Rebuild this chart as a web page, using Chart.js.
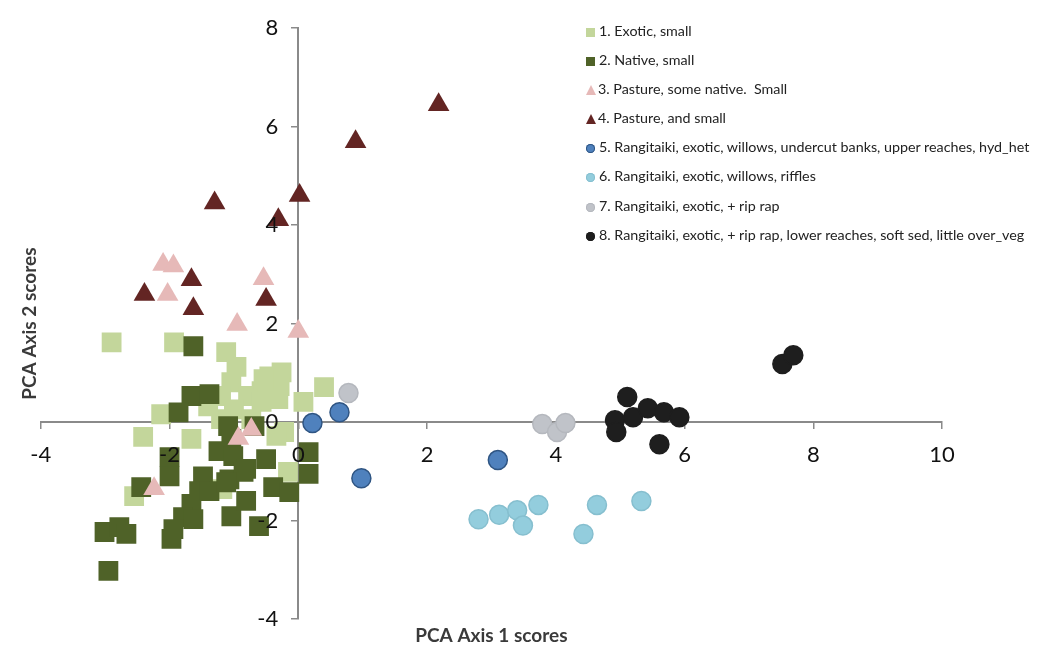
<!DOCTYPE html>
<html>
<head>
<meta charset="utf-8">
<script src="https://cdn.jsdelivr.net/npm/chart.js"></script>
<style>
    body { margin: 0; background: #fff; }
    #wrap { position: relative; width: 1062px; height: 650px; }
    #legend { position: absolute; left: 586px; top: 20px; font-family: Lato, sans-serif; font-size: 14.3px; color: #222; }
    #legend div { height: 29.1px; line-height: 22px; white-space: pre; }
    #legend span.mk { display: inline-block; width: 9px; height: 9px; margin-right: 4px; vertical-align: -1px; }
</style>
</head>
<body>
<div id="wrap">
    <canvas id="pca" width="1062" height="650"></canvas>
    <div id="legend"></div>
</div>
<script>
// series names (legend)
const seriesNames = [
    '1. Exotic, small',
    '2. Native, small',
    '3. Pasture, some native.  Small',
    '4. Pasture, and small',
    '5. Rangitaiki, exotic, willows, undercut banks, upper reaches, hyd_het',
    '6. Rangitaiki, exotic, willows, riffles',
    '7. Rangitaiki, exotic, + rip rap',
    '8. Rangitaiki, exotic, + rip rap, lower reaches, soft sed, little over_veg'
];

// PCA scores [axis1, axis2]
const exoticSmall = [
    [-2.90, 1.62], [-1.93, 1.62], [-1.12, 1.42], [-0.96, 1.12], [-1.04, 0.81], [-0.45, 0.93],
    [-0.26, 1.01], [-0.29, 0.73], [-0.57, 0.63], [-0.78, 0.53], [-1.20, 0.53], [-1.00, 0.26],
    [-0.57, 0.41], [-0.31, 0.47], [0.08, 0.41], [0.40, 0.71], [-0.22, -0.20], [-1.20, 0.06],
    [-2.13, 0.16], [-2.41, -0.30], [-1.66, -0.34], [-2.55, -1.50], [-0.16, -1.01], [-0.34, -0.28],
    [-1.18, -1.36], [-1.40, 0.32], [-0.73, 0.06], [-0.54, 0.87]
];
const nativeSmall = [
    [-1.63, 1.54], [-1.66, 0.53], [-1.38, 0.57], [-1.86, 0.20], [-1.09, -0.08], [-0.68, -0.08],
    [-1.04, -0.34], [-2.00, -0.71], [-2.00, -1.10], [-2.44, -1.32], [-1.24, -0.59], [-1.01, -0.69],
    [-0.81, -0.95], [-1.07, -1.16], [-1.48, -1.10], [-1.54, -1.40], [-1.66, -1.66], [-1.79, -1.93],
    [-1.94, -2.17], [-1.63, -1.97], [-1.04, -1.91], [-0.61, -2.11], [-0.50, -0.75], [-0.39, -1.32],
    [-0.14, -1.42], [0.16, -0.61], [0.16, -1.05], [-3.01, -2.23], [-2.78, -2.13], [-2.67, -2.27],
    [-2.95, -3.02], [-0.85, -1.01], [-0.81, -1.60], [-1.38, -1.40], [-1.12, -1.22], [-1.97, -2.37]
];
const pastureNative = [
    [-2.10, 3.20], [-1.94, 3.17], [-2.03, 2.59], [-0.54, 2.91], [-0.95, 1.98], [0.00, 1.84],
    [-0.93, -0.33], [-0.73, -0.15], [-2.24, -1.35]
];
const pastureSmall = [
    [2.18, 6.44], [0.89, 5.69], [0.02, 4.60], [-1.30, 4.45], [-0.31, 4.11], [-2.39, 2.59],
    [-1.66, 2.89], [-1.63, 2.30], [-0.50, 2.49]
];
const rangUpper = [[0.22, -0.02], [0.64, 0.20], [0.98, -1.14], [3.10, -0.77]];
const rangRiffles = [
    [2.80, -1.97], [3.12, -1.88], [3.40, -1.79], [3.49, -2.10], [3.73, -1.68], [4.43, -2.27],
    [4.64, -1.68], [5.33, -1.60]
];
const rangRipRap = [[0.78, 0.59], [3.79, -0.04], [4.02, -0.20], [4.15, -0.02]];
const rangLower = [
    [5.11, 0.51], [4.92, 0.04], [4.94, -0.20], [5.20, 0.10], [5.43, 0.28], [5.68, 0.20],
    [5.92, 0.10], [5.61, -0.45], [7.52, 1.18], [7.69, 1.36]
];

const xTicks = [-4, -2, 0, 2, 4, 6, 8, 10];
const yTicks = [-4, -2, 0, 2, 4, 6, 8];

const styles = [
    { shape: 'rect', r: 14, fill: '#c3d69b', line: '#c3d69b', bw: 0 },
    { shape: 'rect', r: 14, fill: '#4f6228', line: '#4f6228', bw: 0 },
    { shape: 'triangle', r: 12.5, fill: '#e6b9b8', line: '#e6b9b8', bw: 0 },
    { shape: 'triangle', r: 12.5, fill: '#632523', line: '#632523', bw: 0 },
    { shape: 'circle', r: 9.5, fill: '#4f81bd', line: '#2f5583', bw: 1.5 },
    { shape: 'circle', r: 9.5, fill: '#93cddd', line: '#86bfcf', bw: 1.5 },
    { shape: 'circle', r: 9.5, fill: '#c0c3c9', line: '#b5b8be', bw: 1.5 },
    { shape: 'circle', r: 9.5, fill: '#1e1e1e', line: '#1e1e1e', bw: 1.5 }
];

const allSeries = [exoticSmall, nativeSmall, pastureNative, pastureSmall, rangUpper, rangRiffles, rangRipRap, rangLower];

const datasets = allSeries.map((pts, i) => ({
    label: seriesNames[i],
    data: pts.map(p => ({ x: p[0], y: p[1] })),
    pointStyle: styles[i].shape,
    pointRadius: styles[i].r,
    backgroundColor: styles[i].fill,
    borderColor: styles[i].line,
    borderWidth: styles[i].bw,
    order: allSeries.length - i   // first series at the bottom, like Excel
}));

const tickFont = { family: 'Lato', size: 22 };
const axisGrey = '#8a8a8a';

// y labels of a centred axis sit right on the line, push them left of the tick marks
const yLabelGap = {
    id: 'yLabelGap',
    beforeDraw(chart) {
        const items = chart.scales.yl.getLabelItems();
        if (items._shifted) return;
        items.forEach(it => { it.options.translation[0] -= 20; });
        items._shifted = true;
    }
};

new Chart(document.getElementById('pca'), {
    type: 'scatter',
    data: { datasets: datasets },
    plugins: [yLabelGap],
    options: {
        responsive: false,
        animation: false,
        layout: { padding: { left: 14, top: 28, right: 120, bottom: 3 } },
        plugins: {
            legend: { display: false },
            tooltip: { enabled: false },
            title: {
                display: true, position: 'bottom', fullSize: false,
                text: 'PCA Axis 1 scores', color: '#3a3a3a',
                font: { family: 'Lato', size: 19, weight: 'bold' },
                padding: { top: 5, bottom: 0 }
            },
            subtitle: {
                display: true, position: 'left', fullSize: false,
                text: 'PCA Axis 2 scores', color: '#3a3a3a',
                font: { family: 'Lato', size: 19, weight: 'bold' },
                padding: { top: 4, bottom: 0 }
            }
        },
        scales: {
            // axis lines + tick marks, under the markers
            x: {
                type: 'linear', position: { y: 0 }, min: -4, max: 10,
                afterBuildTicks: axis => { axis.ticks = xTicks.map(v => ({ value: v })); },
                ticks: { display: false },
                grid: { drawOnChartArea: false, drawTicks: true, tickLength: 6, color: axisGrey, lineWidth: 1.5 },
                border: { color: axisGrey, width: 2 }
            },
            y: {
                type: 'linear', position: { x: 0 }, min: -4, max: 8,
                afterBuildTicks: axis => { axis.ticks = yTicks.map(v => ({ value: v })); },
                ticks: { display: false },
                grid: { drawOnChartArea: false, drawTicks: true, tickLength: 6, color: axisGrey, lineWidth: 1.5 },
                border: { color: axisGrey, width: 2 }
            },
            // tick labels only, drawn over the markers
            xl: {
                type: 'linear', axis: 'x', position: { y: 0 }, min: -4, max: 10,
                afterBuildTicks: axis => { axis.ticks = xTicks.map(v => ({ value: v })); },
                ticks: { color: '#111', font: tickFont, padding: 14, z: 1 },
                grid: { display: false, drawTicks: true, tickLength: 6 },
                border: { display: false }
            },
            yl: {
                type: 'linear', axis: 'y', position: { x: 0 }, min: -4, max: 8,
                afterBuildTicks: axis => { axis.ticks = yTicks.map(v => ({ value: v })); },
                ticks: { color: '#111', font: tickFont, padding: 12, z: 1 },
                grid: { display: false },
                border: { display: false }
            }
        }
    }
});

// legend (HTML, top right of the plot)
const legend = document.getElementById('legend');
seriesNames.forEach((name, i) => {
    const row = document.createElement('div');
    const mk = document.createElement('span');
    mk.className = 'mk';
    const s = styles[i];
    if (s.shape === 'circle') {
        mk.style.background = s.fill;
        mk.style.borderRadius = '50%';
        mk.style.boxShadow = '0 0 0 1px ' + s.line + ' inset';
    } else if (s.shape === 'triangle') {
        mk.style.width = '0';
        mk.style.height = '0';
        mk.style.borderLeft = '5.5px solid transparent';
        mk.style.borderRight = '5.5px solid transparent';
        mk.style.borderBottom = '10px solid ' + s.fill;
        mk.style.marginRight = '2px';
    } else {
        mk.style.background = s.fill;
    }
    row.appendChild(mk);
    row.appendChild(document.createTextNode(name));
    legend.appendChild(row);
});
</script>
</body>
</html>
